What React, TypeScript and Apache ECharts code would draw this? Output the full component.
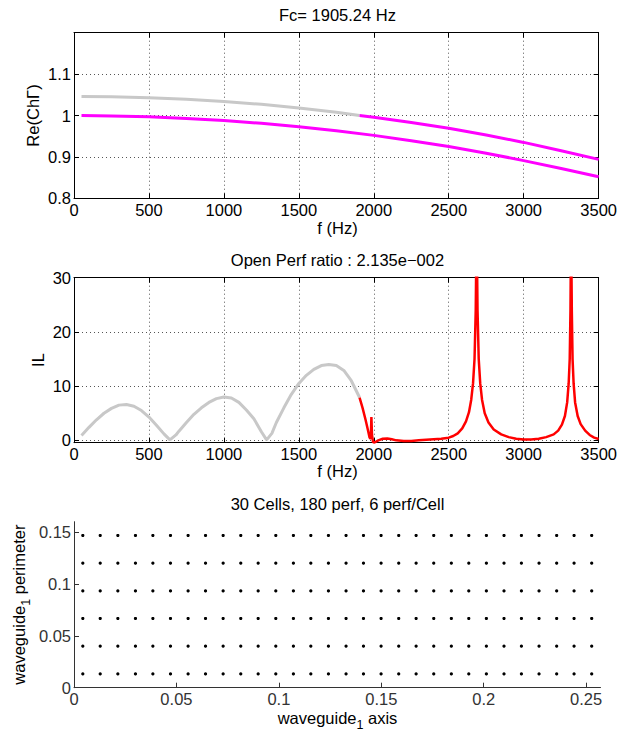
import React, { useEffect, useRef } from "react";
import * as echarts from "echarts";

// ---------- tick labels ----------
const F_TICKS = [0, 500, 1000, 1500, 2000, 2500, 3000, 3500];
const RE_TICKS = [0.8, 0.9, 1, 1.1];
const IL_TICKS = [0, 10, 20, 30];
const AXIS_TICKS = [0, 0.05, 0.1, 0.15, 0.2, 0.25];
const PERIM_TICKS = [0, 0.05, 0.1, 0.15];

// ---------- plot 1 : Re(ChΓ) ----------
const F_UP_GRAY = [50, 250, 500, 750, 1000, 1250, 1500, 1750, 1905];
const RE_UP_GRAY = [1.046, 1.045, 1.043, 1.039, 1.034, 1.027, 1.018, 1.008, 1.0];
const F_UP_MAG = [1905, 2000, 2250, 2500, 2750, 3000, 3250, 3500];
const RE_UP_MAG = [1.0, 0.996, 0.983, 0.969, 0.953, 0.935, 0.915, 0.894];
const F_LOW = [50, 250, 500, 750, 1000, 1250, 1500, 1750, 2000, 2250, 2500, 2750, 3000, 3250, 3500];
const RE_LOW = [1.0, 0.999, 0.997, 0.993, 0.988, 0.981, 0.973, 0.963, 0.952, 0.939, 0.925, 0.909, 0.891, 0.872, 0.852];

// ---------- plot 2 : IL ----------
const F_IL_GRAY = [50, 100, 150, 200, 250, 300, 350, 400, 450, 500, 550, 600, 640, 680, 700, 750, 800, 850, 900, 950, 1000, 1050, 1100, 1150, 1200, 1250, 1285, 1320, 1350, 1400, 1450, 1500, 1550, 1600, 1650, 1700, 1750, 1800, 1850, 1905];
const IL_GRAY = [0.9, 2.4, 3.8, 5.0, 5.9, 6.5, 6.6, 6.3, 5.5, 4.3, 2.8, 1.2, 0.1, 1.0, 1.7, 3.3, 4.8, 6.0, 7.0, 7.7, 8.0, 7.8, 7.0, 5.6, 4.0, 1.6, 0.1, 1.3, 3.3, 6.0, 8.5, 10.5, 12.0, 13.1, 13.8, 14.0, 13.8, 12.9, 11.0, 7.9];
const F_IL_RED = [1905, 1925, 1945, 1960, 1972, 1980, 1984, 1988, 1995, 2005, 2030, 2060, 2090, 2120, 2150, 2200, 2250, 2300, 2350, 2400, 2450, 2500, 2530, 2560, 2590, 2615, 2635, 2650, 2662, 2672, 2680, 2686, 2692, 2700, 2710, 2722, 2740, 2765, 2800, 2850, 2900, 2950, 3000, 3050, 3100, 3150, 3200, 3230, 3255, 3275, 3290, 3300, 3307, 3312, 3316, 3321, 3326, 3333, 3343, 3360, 3380, 3410, 3440, 3470, 3500];
const IL_RED = [7.9, 6.0, 3.8, 2.0, 0.5, 0.3, 4.3, 1.0, -0.3, -0.4, 0.0, 0.3, 0.35, 0.2, 0.0, -0.1, -0.1, 0.0, 0.1, 0.2, 0.3, 0.5, 0.8, 1.3, 2.2, 3.5, 5.2, 7.5, 10.5, 15, 24, 40, 24, 15, 10.5, 7.5, 5.0, 3.3, 2.0, 1.1, 0.6, 0.3, 0.15, 0.15, 0.3, 0.6, 1.1, 1.8, 2.9, 4.5, 7.0, 10.5, 15, 24, 40, 24, 15, 10.5, 7.0, 4.5, 3.0, 1.8, 1.0, 0.5, 0.25];

// ---------- plot 3 : perforation positions ----------
const PERF_X = [0.0043, 0.0128, 0.0214, 0.03, 0.0385, 0.0471, 0.0557, 0.0642, 0.0728, 0.0814, 0.0899, 0.0985, 0.1071, 0.1156, 0.1242, 0.1328, 0.1413, 0.1499, 0.1585, 0.167, 0.1756, 0.1842, 0.1927, 0.2013, 0.2099, 0.2184, 0.227, 0.2356, 0.2441, 0.2527];
const PERF_Y = [0.0133, 0.04, 0.0667, 0.0933, 0.12, 0.1467];

const FONT = "'Liberation Sans', Arial, Helvetica, sans-serif";
const FS = 16.5;

function zip(xs: number[], ys: number[]) {
  return xs.map((x, i) => [x, ys[i]]);
}

function axis(
  gridIndex: number,
  position: string,
  min: number,
  max: number,
  ticks: number[],
  labels: boolean,
  split: boolean,
  color: string
) {
  return {
    type: "value",
    gridIndex,
    position,
    min,
    max,
    axisLine: { show: true, onZero: false, lineStyle: { color, width: 1 } },
    axisTick: { show: true, inside: true, length: 5, customValues: ticks, lineStyle: { color, width: 1 } },
    axisLabel: {
      show: labels,
      customValues: ticks,
      color,
      fontSize: FS,
      fontFamily: FONT,
      margin: 3,
      formatter: (v: number) => String(v),
    },
    splitLine: { show: split, lineStyle: { color: "#555", type: [1, 3], width: 1 } },
  };
}

function txt(x: number, y: number, text: string, rotate = false, rich?: any) {
  return {
    type: "text",
    x,
    y,
    rotation: rotate ? Math.PI / 2 : 0,
    style: {
      text,
      fill: "#000",
      font: `${FS}px ${FONT}`,
      fontSize: FS,
      fontFamily: FONT,
      align: "center",
      verticalAlign: "middle",
      rich,
    },
  };
}

const SUB_RICH = {
  sub: { fontSize: 12.5, fontFamily: FONT, fill: "#000", padding: [14, 0, 0, 0] },
};

export default function App() {
  const ref = useRef<HTMLDivElement>(null);

  useEffect(() => {
    if (!ref.current) return;
    const chart = echarts.init(ref.current, undefined, { renderer: "svg" });

    const scatterData: number[][] = [];
    PERF_Y.forEach((y) => PERF_X.forEach((x) => scatterData.push([x, y])));

    const gridW = 527.5;
    chart.setOption({
      animation: false,
      backgroundColor: "#fff",
      grid: [
        { left: 74, top: 32.7, width: gridW, height: 165.6 },
        { left: 74, top: 277.7, width: gridW, height: 165 },
        { left: 74, top: 521.7, width: gridW - 1, height: 166 },
      ],
      xAxis: [
        axis(0, "bottom", 0, 3500, F_TICKS, true, true, "#000"),
        axis(0, "top", 0, 3500, F_TICKS, false, false, "#000"),
        axis(1, "bottom", 0, 3500, F_TICKS, true, true, "#000"),
        axis(1, "top", 0, 3500, F_TICKS, false, false, "#000"),
        axis(2, "bottom", 0, 0.257, AXIS_TICKS, true, false, "#333"),
      ],
      yAxis: [
        axis(0, "left", 0.8, 1.2, RE_TICKS, true, true, "#000"),
        axis(0, "right", 0.8, 1.2, RE_TICKS, false, false, "#000"),
        axis(1, "left", -0.43, 30, IL_TICKS, true, true, "#000"),
        axis(1, "right", -0.43, 30, IL_TICKS, false, false, "#000"),
        axis(2, "left", 0, 0.16, PERIM_TICKS, true, false, "#333"),
      ],
      series: [
        {
          type: "line", xAxisIndex: 0, yAxisIndex: 0, data: zip(F_UP_GRAY, RE_UP_GRAY),
          showSymbol: false, lineStyle: { color: "#c8c8c8", width: 3 }, z: 3,
        },
        {
          type: "line", xAxisIndex: 0, yAxisIndex: 0, data: zip(F_UP_MAG, RE_UP_MAG),
          showSymbol: false, lineStyle: { color: "#ff00ff", width: 3 }, z: 3,
        },
        {
          type: "line", xAxisIndex: 0, yAxisIndex: 0, data: zip(F_LOW, RE_LOW),
          showSymbol: false, lineStyle: { color: "#ff00ff", width: 3 }, z: 3,
        },
        {
          type: "line", xAxisIndex: 2, yAxisIndex: 2, data: zip(F_IL_GRAY, IL_GRAY),
          showSymbol: false, lineStyle: { color: "#c8c8c8", width: 3 }, z: 3,
        },
        {
          type: "line", xAxisIndex: 2, yAxisIndex: 2, data: zip(F_IL_RED, IL_RED),
          showSymbol: false, lineStyle: { color: "#ff0000", width: 2.5 }, z: 3, clip: true,
        },
        {
          type: "scatter", xAxisIndex: 4, yAxisIndex: 4, data: scatterData,
          symbol: "circle", symbolSize: 3.2, itemStyle: { color: "#000", opacity: 1 },
        },
      ],
      graphic: [
        txt(337.5, 14.5, "Fc= 1905.24 Hz"),
        txt(337.5, 228, "f (Hz)"),
        txt(33, 115.5, "Re(ChΓ)", true),
        txt(337.5, 260, "Open Perf ratio : 2.135e\u2212002"),
        txt(337.5, 471, "f (Hz)"),
        txt(37.5, 360, "IL", true),
        txt(337.5, 503.5, "30 Cells, 180 perf, 6 perf/Cell"),
        txt(337.5, 718, "waveguide{sub|1} axis", false, SUB_RICH),
        txt(19, 604.6, "waveguide{sub|1} perimeter", true, SUB_RICH),
      ],
    });

    return () => chart.dispose();
  }, []);

  return (
    <div
      ref={ref}
      style={{ position: "absolute", left: 0, top: 0, width: 620, height: 736, background: "#fff" }}
    />
  );
}
